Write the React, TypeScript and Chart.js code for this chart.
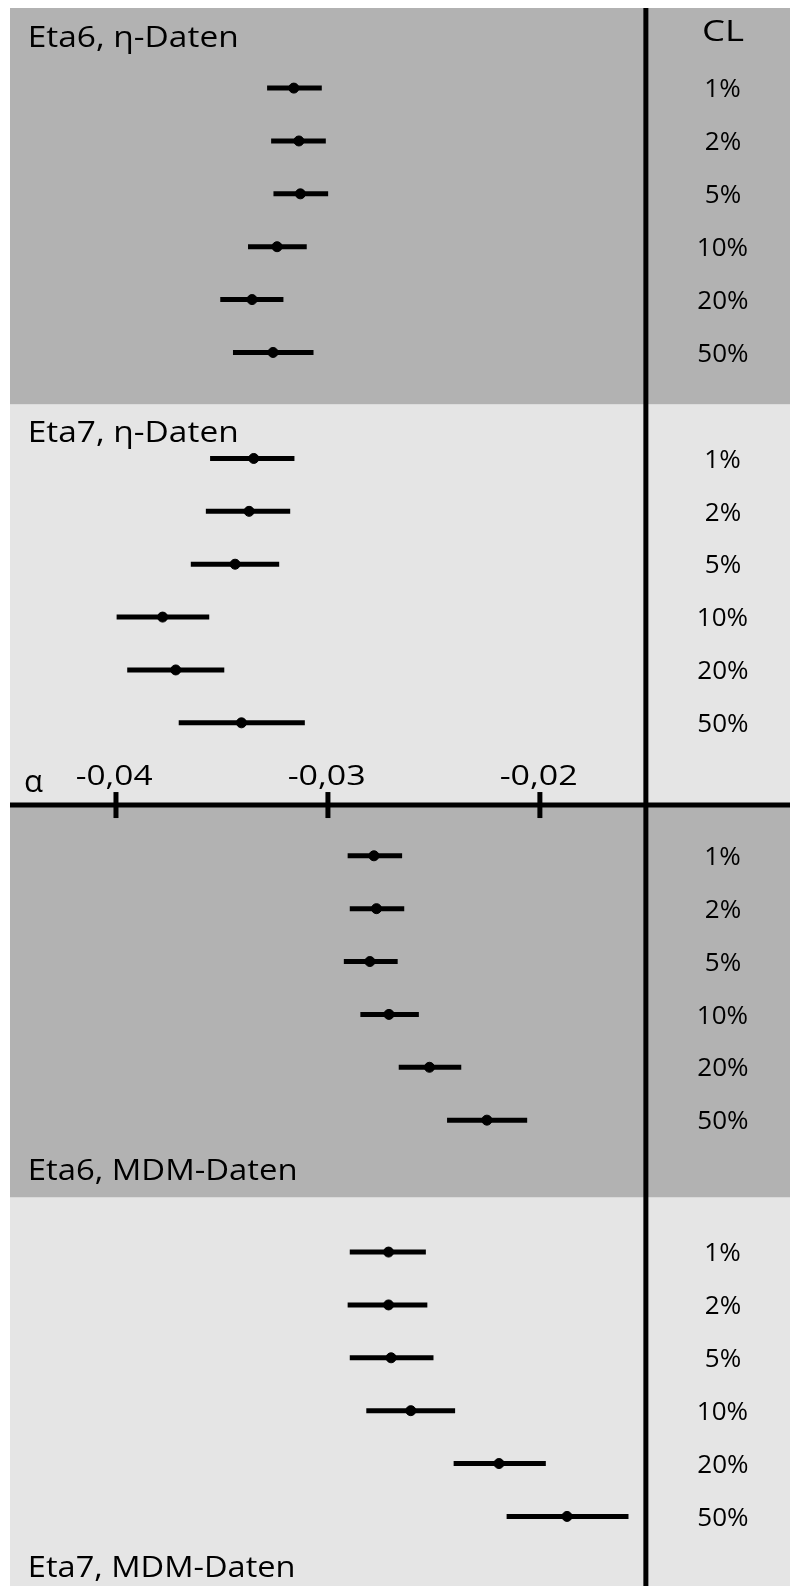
import { useEffect, useRef } from 'react';
import { Chart, registerables } from 'chart.js';

Chart.register(...registerables);

// ---------- data ----------
const clLabels = ['1%', '2%', '5%', '10%', '20%', '50%'];
const groupTitles = ['Eta6, η-Daten', 'Eta7, η-Daten', 'Eta6, MDM-Daten', 'Eta7, MDM-Daten'];
const clHeader = 'CL';
const axisSymbol = 'α';
const xTickValues = [-0.04, -0.03, -0.02];
const xTickLabels = ['-0,04', '-0,03', '-0,02'];
const referenceLine = -0.015;

const eta6EtaCenter = [-0.03161, -0.03137, -0.0313, -0.0324, -0.03358, -0.03259];
const eta6EtaLow = [-0.03287, -0.03268, -0.03257, -0.03377, -0.03508, -0.03448];
const eta6EtaHigh = [-0.03029, -0.0301, -0.02999, -0.031, -0.0321, -0.03068];

const eta7EtaCenter = [-0.0335, -0.03372, -0.03438, -0.0378, -0.03718, -0.03408];
const eta7EtaLow = [-0.03556, -0.03576, -0.03647, -0.03997, -0.03947, -0.03704];
const eta7EtaHigh = [-0.03158, -0.03178, -0.0323, -0.0356, -0.03489, -0.03109];

const eta6MdmCenter = [-0.02783, -0.02771, -0.02802, -0.02712, -0.02521, -0.0225];
const eta6MdmLow = [-0.02907, -0.02897, -0.02925, -0.02847, -0.02666, -0.02438];
const eta6MdmHigh = [-0.0265, -0.0264, -0.02671, -0.02571, -0.02371, -0.0206];

const eta7MdmCenter = [-0.02714, -0.02714, -0.02702, -0.02609, -0.02193, -0.01872];
const eta7MdmLow = [-0.02897, -0.02907, -0.02897, -0.02819, -0.02407, -0.02157];
const eta7MdmHigh = [-0.02538, -0.02531, -0.02502, -0.024, -0.01972, -0.01582];

// ---------- layout (row units on the y scale) ----------
const groups = [
  { center: eta6EtaCenter, low: eta6EtaLow, high: eta6EtaHigh },
  { center: eta7EtaCenter, low: eta7EtaLow, high: eta7EtaHigh },
  { center: eta6MdmCenter, low: eta6MdmLow, high: eta6MdmHigh },
  { center: eta7MdmCenter, low: eta7MdmLow, high: eta7MdmHigh },
];
const groupFirstRow = [1.515, 8.52, 16.035, 23.53];
const Y_MAX = 29.846;
const panelBounds = [0, 7.5, 15.075, 22.5, Y_MAX];
const panelColors = ['#b2b2b2', '#e5e5e5', '#b2b2b2', '#e5e5e5'];
const AXIS_ROW = 15.075;
const CL_X = -0.01135;
const FONT = '"Open Sans", "Noto Sans", sans-serif';

function drawText(
  ctx: CanvasRenderingContext2D,
  text: string,
  x: number,
  y: number,
  size: number,
  targetWidth: number | null,
  align: 'left' | 'center'
) {
  ctx.font = `${size}px ${FONT}`;
  ctx.textAlign = 'left';
  ctx.textBaseline = 'alphabetic';
  const m = ctx.measureText(text);
  const ink = m.actualBoundingBoxLeft + m.actualBoundingBoxRight;
  const sx = targetWidth && ink > 0 ? targetWidth / ink : 1;
  ctx.save();
  ctx.translate(x, y);
  ctx.scale(sx, 1);
  let start = m.actualBoundingBoxLeft;
  if (align === 'center') start -= ink / 2;
  ctx.fillStyle = '#000';
  ctx.fillText(text, start, 0);
  ctx.restore();
}

const decorPlugin = {
  id: 'decor',
  beforeDatasetsDraw(chart: any) {
    const { ctx, chartArea, scales } = chart;
    const ys = scales.y;
    ctx.save();
    for (let i = 0; i < panelColors.length; i++) {
      const t = ys.getPixelForValue(panelBounds[i]);
      const b = ys.getPixelForValue(panelBounds[i + 1]);
      ctx.fillStyle = panelColors[i];
      ctx.fillRect(chartArea.left, t, chartArea.right - chartArea.left, b - t);
    }
    ctx.restore();
  },
  afterDatasetsDraw(chart: any) {
    const { ctx, chartArea, scales } = chart;
    const xs = scales.x;
    const ys = scales.y;
    ctx.save();
    ctx.strokeStyle = '#000';
    ctx.lineCap = 'butt';
    // vertical reference line
    const rx = xs.getPixelForValue(referenceLine);
    ctx.lineWidth = 5;
    ctx.beginPath();
    ctx.moveTo(rx, chartArea.top);
    ctx.lineTo(rx, chartArea.bottom);
    ctx.stroke();
    // horizontal axis
    const ay = ys.getPixelForValue(AXIS_ROW);
    ctx.beginPath();
    ctx.moveTo(chartArea.left, ay);
    ctx.lineTo(chartArea.right, ay);
    ctx.stroke();
    // ticks + labels
    xTickValues.forEach((v, i) => {
      const px = xs.getPixelForValue(v);
      ctx.lineWidth = 5;
      ctx.beginPath();
      ctx.moveTo(px, ay - 13);
      ctx.lineTo(px, ay + 13);
      ctx.stroke();
      drawText(ctx, xTickLabels[i], px - 1.5, ay - 20, 27, 75, 'center');
    });
    drawText(ctx, axisSymbol, chartArea.left + 15, ay - 13.5, 31, 18, 'left');

    // titles
    const titleY = [
      ys.getPixelForValue(panelBounds[0]) + 38.7,
      ys.getPixelForValue(panelBounds[1]) + 37,
      ys.getPixelForValue(panelBounds[3]) - 18,
      ys.getPixelForValue(panelBounds[4]) - 9.3,
    ];
    const titleW = [206, 206, 265, 263];
    groupTitles.forEach((t, i) => {
      drawText(ctx, t, chartArea.left + 20, titleY[i], 30, titleW[i], 'left');
    });

    // CL header and labels
    const cx = xs.getPixelForValue(CL_X);
    drawText(ctx, clHeader, cx, ys.getPixelForValue(0) + 33, 30, 40, 'center');
    groupFirstRow.forEach((off) => {
      clLabels.forEach((lab, i) => {
        const py = ys.getPixelForValue(off + i);
        drawText(ctx, lab, cx, py + 9.2, 26, null, 'center');
      });
    });
    ctx.restore();
  },
};

function buildDatasets() {
  const ds: any[] = [];
  groups.forEach((g, gi) => {
    g.center.forEach((_, i) => {
      const y = groupFirstRow[gi] + i;
      ds.push({
        type: 'line',
        data: [
          { x: g.low[i], y },
          { x: g.high[i], y },
        ],
        borderColor: '#000',
        borderWidth: 5,
        borderCapStyle: 'butt',
        pointRadius: 0,
        fill: false,
        tension: 0,
      });
    });
    ds.push({
      type: 'scatter',
      data: g.center.map((c, i) => ({ x: c, y: groupFirstRow[gi] + i })),
      pointRadius: 5,
      borderWidth: 1,
      backgroundColor: '#000',
      borderColor: '#000',
    });
  });
  return ds;
}

export default function App() {
  const ref = useRef<HTMLCanvasElement>(null);
  useEffect(() => {
    let chart: Chart | null = null;
    let cancelled = false;
    const make = () => {
      if (cancelled || !ref.current) return;
      chart = new Chart(ref.current, {
        type: 'scatter',
        data: { datasets: buildDatasets() },
        options: {
          animation: false,
          responsive: false,
          devicePixelRatio: 1,
          layout: { autoPadding: false, padding: { left: 10, top: 8, right: 0, bottom: 0 } },
          plugins: { legend: { display: false }, tooltip: { enabled: false } },
          scales: {
            x: { type: 'linear', min: -0.045, max: -0.0082, display: false },
            y: { type: 'linear', min: 0, max: Y_MAX, reverse: true, display: false },
          },
        },
        plugins: [decorPlugin],
      } as any);
    };
    document.fonts.load(`30px "Open Sans"`).then(make, make);
    return () => {
      cancelled = true;
      if (chart) chart.destroy();
    };
  }, []);
  return (
    <div style={{ position: 'fixed', left: 0, top: 0, width: 790, height: 1586, overflow: 'hidden' }}>
      <canvas ref={ref} width={790} height={1586} style={{ display: 'block', width: 790, height: 1586 }} />
    </div>
  );
}
